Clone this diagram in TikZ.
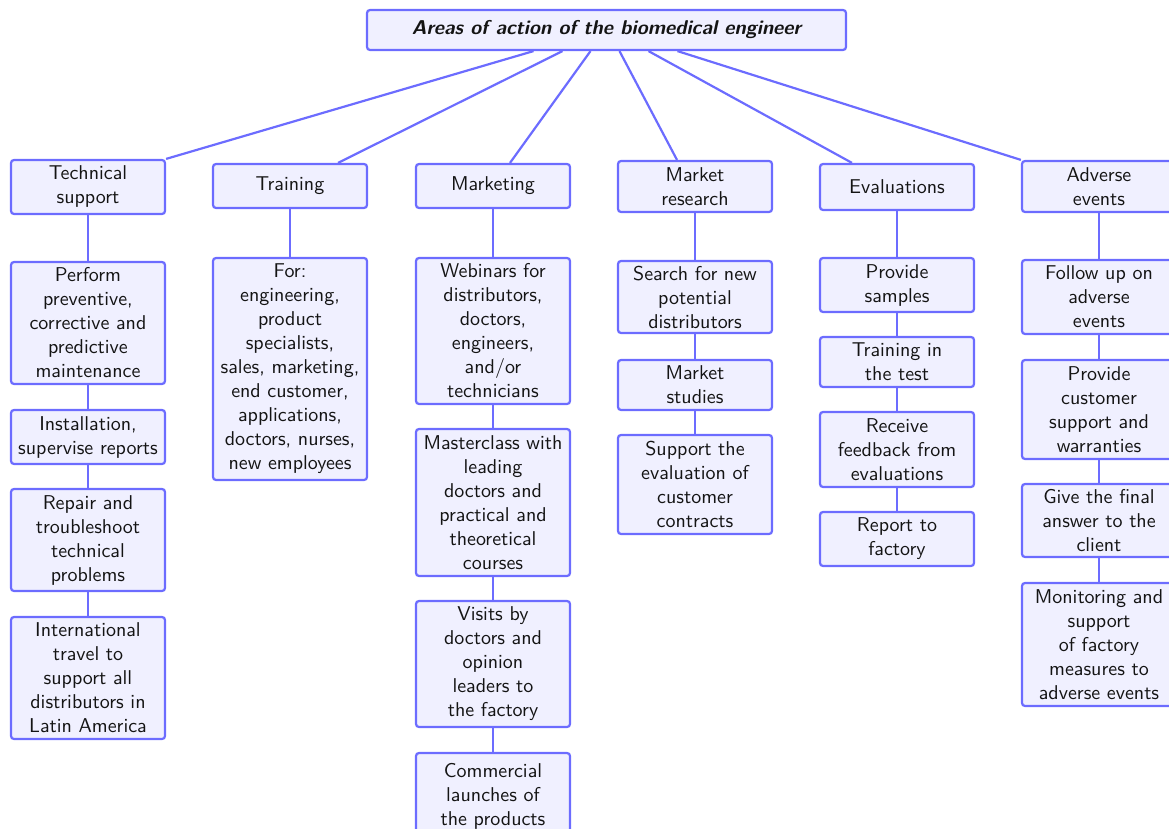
\documentclass[tikz,border=0pt]{standalone}
\usetikzlibrary{calc}
\definecolor{boxline}{RGB}{108,108,255}
\definecolor{boxfill}{RGB}{240,240,255}
\definecolor{txt}{RGB}{20,20,20}
\begin{document}
\begin{tikzpicture}[x=0.5pt,y=-0.5pt,
  every node/.style={font=\sffamily\fontsize{10}{12}\selectfont, text=txt},
  box/.style={draw=boxline, fill=boxfill, line width=1.1pt, rounded corners=1.5pt,
    align=center, minimum width=77pt, inner xsep=2pt, inner ysep=1.5pt},
  titlebox/.style={box, minimum width=239.5pt, minimum height=20pt, font=\sffamily\bfseries\itshape\fontsize{10}{12}\selectfont},
  link/.style={draw=boxline, line width=1.1pt}]
\useasboundingbox (0,0) rectangle (1169,829);
\node[titlebox] (title) at (606.5,30) {Areas of action of the biomedical engineer};
% level 1
\node[box, minimum height=27pt] (ts) at (88,187) {Technical\\support};
\node[box, minimum height=22pt] (tr) at (290,186) {Training};
\node[box, minimum height=22pt] (mk) at (493,186) {Marketing};
\node[box, minimum height=25.5pt] (mr) at (695,186.5) {Market\\research};
\node[box, minimum height=23pt] (ev) at (897,187) {Evaluations};
\node[box, minimum height=25.5pt] (ae) at (1099,186.5) {Adverse\\events};
% column 1
\node[box, minimum height=61pt] (ts1) at (88,323) {Perform\\preventive,\\corrective and\\predictive\\maintenance};
\node[box, minimum height=27pt] (ts2) at (88,437) {Installation,\\supervise reports};
\node[box, minimum height=51pt] (ts3) at (88,540) {Repair and\\troubleshoot\\technical\\problems};
\node[box, minimum height=61pt] (ts4) at (88,678) {International\\travel to\\support all\\distributors in\\Latin America};
% column 2
\node[box, minimum height=111pt] (tr1) at (290,369) {For:\\engineering,\\product\\specialists,\\sales, marketing,\\end customer,\\applications,\\doctors, nurses,\\new employees};
% column 3
\node[box, minimum height=73pt] (mk1) at (493,331) {Webinars for\\distributors,\\doctors,\\engineers,\\and/or\\technicians};
\node[box, minimum height=73.5pt] (mk2) at (493,502.5) {Masterclass with\\leading\\doctors and\\practical and\\theoretical\\courses};
\node[box, minimum height=63pt] (mk3) at (493,664) {Visits by\\doctors and\\opinion\\leaders to\\the factory};
\node[box, minimum height=43pt] (mk4) at (493,796) {Commercial\\launches of\\the products};
% column 4
\node[box, minimum height=36pt] (mr1) at (695,297) {Search for new\\potential\\distributors};
\node[box, minimum height=25pt] (mr2) at (695,385) {Market\\studies};
\node[box, minimum height=49.5pt] (mr3) at (695,484.5) {Support the\\evaluation of\\customer\\contracts};
% column 5
\node[box, minimum height=27pt] (ev1) at (897,285) {Provide\\samples};
\node[box, minimum height=25pt] (ev2) at (897,362) {Training in\\the test};
\node[box, minimum height=37.5pt] (ev3) at (897,449.5) {Receive\\feedback from\\evaluations};
\node[box, minimum height=27pt] (ev4) at (897,539) {Report to\\factory};
% column 6
\node[box, minimum height=37pt] (ae1) at (1099,297) {Follow up on\\adverse\\events};
\node[box, minimum height=49.5pt] (ae2) at (1099,409.5) {Provide\\customer\\support and\\warranties};
\node[box, minimum height=36.5pt] (ae3) at (1099,520.5) {Give the final\\answer to the\\client};
\node[box, minimum height=61.5pt] (ae4) at (1099,644.5) {Monitoring and\\support\\of factory\\measures to\\adverse events};
% links from title
\draw[link] ($(title.south)+(-73,0)$) -- (ts.north east);
\draw[link] ($(title.south)+(-44,0)$) -- ($(tr.north)+(48,0)$);
\draw[link] ($(title.south)+(-16,0)$) -- ($(mk.north)+(17,0)$);
\draw[link] ($(title.south)+(13,0)$) -- ($(mr.north)+(-18,0)$);
\draw[link] ($(title.south)+(42,0)$) -- ($(ev.north)+(-45,0)$);
\draw[link] ($(title.south)+(71,0)$) -- (ae.north west);
% vertical links
\foreach \a/\b in {ts/ts1,ts1/ts2,ts2/ts3,ts3/ts4,tr/tr1,mk/mk1,mk1/mk2,mk2/mk3,mk3/mk4,mr/mr1,mr1/mr2,mr2/mr3,ev/ev1,ev1/ev2,ev2/ev3,ev3/ev4,ae/ae1,ae1/ae2,ae2/ae3,ae3/ae4}
  \draw[link] (\a.south) -- (\b.north);
\end{tikzpicture}
\end{document}
